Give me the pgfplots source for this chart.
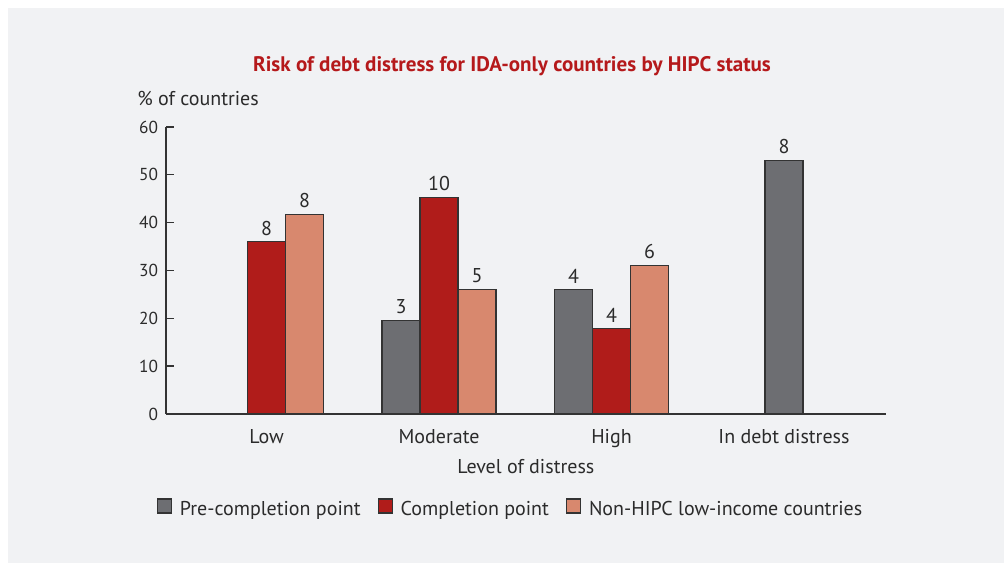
\documentclass[border=0pt]{standalone}
\usepackage{pgfplots}
\usepackage{pgfplotstable}
\pgfplotsset{compat=1.18}
\usepackage{fontspec}
\setmainfont{PT Sans}
\definecolor{panel}{HTML}{F1F2F4}
\definecolor{pregray}{HTML}{6D6E72}
\definecolor{compred}{HTML}{B01C1A}
\definecolor{nonsalmon}{HTML}{D8886E}
\definecolor{titlered}{HTML}{B5191B}
\definecolor{bardark}{HTML}{333333}
\definecolor{txt}{HTML}{2B2B2B}

\pgfplotstableread{
x y lab
1 19.5 3
2 26 4
}\pre
\pgfplotstableread{
x y lab
0 36 8
1 45.3 10
2 17.8 4
}\comp
\pgfplotstableread{
x y lab
0 41.7 8
1 26 5
2 31 6
}\nonh
\pgfplotstableread{
x y lab
3 53 8
}\distress

\begin{document}
\begin{tikzpicture}[x=0.75pt,y=0.75pt]
\fill[white] (0,0) rectangle (1004,563);
\fill[panel] (8,0) rectangle (1004,555);
\node[anchor=base, font=\bfseries\fontsize{15.8}{19}\selectfont, text=titlered, inner sep=0] at (512,491.3) {Risk of debt distress for IDA-only countries by HIPC status};
\node[anchor=base west, font=\fontsize{15}{18}\selectfont, text=txt, inner sep=0] at (137,457.3) {\% of countries};
\begin{axis}[
  at={(124.5pt,111.75pt)}, anchor=south west,
  scale only axis, width=539.8pt, height=215.25pt,
  xmin=-0.583, xmax=3.590, ymin=0, ymax=60,
  ytick={0,10,...,60},
  xtick={0,1,2,3},
  xticklabels={Low,Moderate,High,In debt distress},
  axis x line*=bottom, axis y line*=left,
  axis line style={bardark, line width=1.2pt, -},
  tick align=inside, major tick length=6pt,
  ytick style={bardark, line width=1pt},
  xtick style={draw=none},
  /pgf/number format/assume math mode=true,
  yticklabel style={font=\fontsize{13}{15}\selectfont, text=txt, xshift=-2.5pt},
  xticklabel style={font=\fontsize{15}{18}\selectfont, text=txt, anchor=base, yshift=-16pt},
  xlabel={Level of distress},
  xlabel style={font=\fontsize{15}{18}\selectfont, text=txt, at={(axis description cs:0.5,0)}, anchor=base, yshift=-44.5pt},
  ybar, bar width=28.5pt,
  nodes near coords,
  point meta=explicit symbolic,
  every node near coord/.append style={font=\fontsize{15}{18}\selectfont, text=txt, anchor=south, inner sep=0pt, yshift=4.5pt},
  legend style={draw=none, fill=none, legend columns=-1, at={(0.4794,-0.331)}, anchor=center,
    font=\fontsize{15}{18}\selectfont, text=txt,
    /tikz/every odd column/.append style={column sep=3.75pt},
    /tikz/every even column/.append style={column sep=11pt}},
  legend image code/.code={\draw[#1, line width=0.8pt] (0pt,-3pt) rectangle (10.5pt,7.5pt);},
  clip=false,
]
\addplot[fill=pregray, draw=bardark, line width=0.8pt, bar shift=-28.5pt] table[x=x,y=y,meta=lab]{\pre};
\addlegendentry{Pre-completion point}
\addplot[fill=compred, draw=bardark, line width=0.8pt, bar shift=0pt] table[x=x,y=y,meta=lab]{\comp};
\addlegendentry{Completion point}
\addplot[fill=nonsalmon, draw=bardark, line width=0.8pt, bar shift=28.5pt] table[x=x,y=y,meta=lab]{\nonh};
\addlegendentry{Non-HIPC low-income countries}
\addplot[fill=pregray, draw=bardark, line width=0.8pt, bar shift=0pt, forget plot] table[x=x,y=y,meta=lab]{\distress};
\end{axis}
\end{tikzpicture}
\end{document}
